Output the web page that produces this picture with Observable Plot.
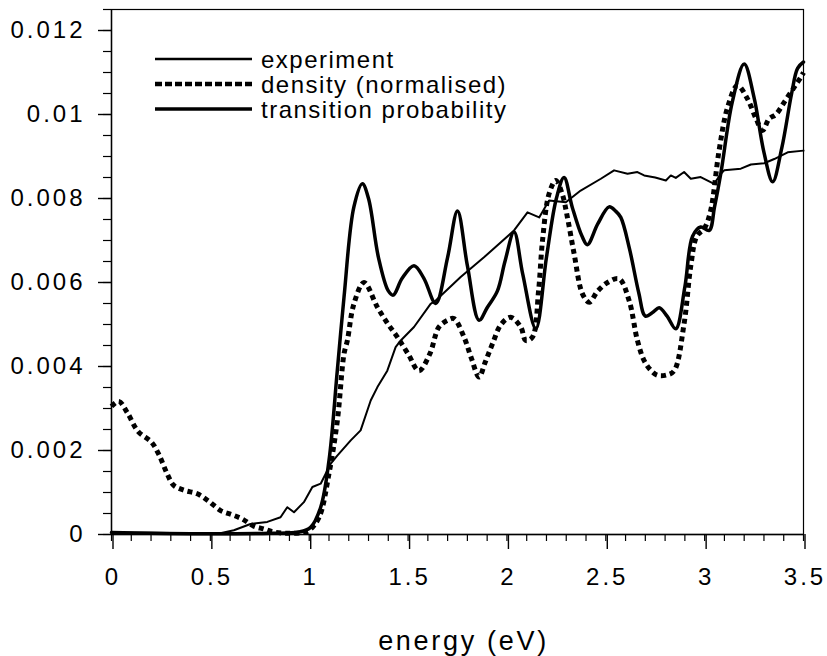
<!DOCTYPE html>
<html>
<head>
<meta charset="utf-8">
<script src="https://cdn.jsdelivr.net/npm/d3@7"></script>
<script src="https://cdn.jsdelivr.net/npm/@observablehq/plot@0.6"></script>
<style>
  html, body { margin: 0; padding: 0; background: #fff; }
  #wrap { position: relative; width: 827px; height: 656px; font-family: "Liberation Sans", Arial, sans-serif; }
  #wrap svg g[aria-label="x-axis tick label"] text,
  #wrap svg g[aria-label="y-axis tick label"] text { letter-spacing: 3px; }
  #wrap svg g[aria-label="text"] text { letter-spacing: 2.7px; }
  #legend { position: absolute; left: 155px; top: 46px; font-size: 24px; letter-spacing: 1.5px; color: #000; }
  #legend .row { display: flex; align-items: center; height: 25px; white-space: nowrap; }
  #legend .row span { line-height: 1; display: inline-block; height: 22px; }
  #legend svg { margin-right: 9px; }
</style>
</head>
<body>
<div id="wrap"></div>
<script>
// ---- data ----
const experimentX = [0, 0.2, 0.4, 0.55, 0.619, 0.703, 0.788, 0.855, 0.889, 0.923, 0.973, 1.016, 1.058, 1.108, 1.142, 1.21, 1.26, 1.311, 1.345, 1.395, 1.437, 1.463, 1.53, 1.614, 1.64, 1.766, 1.884, 2.036, 2.104, 2.163, 2.213, 2.298, 2.373, 2.475, 2.542, 2.61, 2.66, 2.694, 2.75, 2.804, 2.829, 2.854, 2.896, 2.93, 2.98, 3.048, 3.082, 3.099, 3.183, 3.234, 3.301, 3.352, 3.42, 3.5];
const experimentY = [0.00005, 0.00004, 0.00003, 0.00003, 0.0001, 0.00025, 0.0003, 0.00041, 0.00065, 0.00053, 0.00077, 0.00113, 0.00121, 0.00168, 0.00188, 0.00224, 0.00248, 0.00319, 0.00351, 0.0039, 0.00446, 0.00462, 0.00494, 0.00549, 0.00557, 0.00613, 0.0066, 0.00724, 0.00767, 0.00755, 0.00795, 0.00791, 0.00819, 0.00847, 0.00867, 0.00859, 0.00863, 0.00855, 0.0085, 0.00843, 0.00855, 0.00849, 0.00863, 0.00847, 0.00851, 0.00835, 0.00859, 0.00867, 0.00871, 0.00881, 0.00884, 0.00894, 0.0091, 0.00914];

const densityX = [0, 0.037, 0.08, 0.135, 0.202, 0.24, 0.282, 0.315, 0.37, 0.434, 0.49, 0.552, 0.61, 0.661, 0.72, 0.771, 0.82, 0.9, 0.97, 1.0, 1.05, 1.1, 1.142, 1.176, 1.193, 1.226, 1.277, 1.345, 1.4, 1.446, 1.5, 1.555, 1.61, 1.656, 1.7, 1.732, 1.783, 1.82, 1.859, 1.89, 1.927, 1.97, 2.019, 2.07, 2.095, 2.129, 2.16, 2.18, 2.213, 2.247, 2.28, 2.306, 2.34, 2.382, 2.416, 2.46, 2.509, 2.567, 2.618, 2.66, 2.694, 2.73, 2.762, 2.81, 2.846, 2.896, 2.93, 2.96, 3.0, 3.03, 3.073, 3.116, 3.166, 3.217, 3.26, 3.293, 3.326, 3.36, 3.402, 3.453, 3.487, 3.5];
const densityY = [0.00305, 0.00317, 0.0029, 0.00245, 0.0022, 0.0019, 0.00144, 0.00117, 0.00105, 0.00097, 0.0008, 0.00057, 0.00047, 0.00037, 0.0002, 0.00013, 0.00006, 0.00003, 0.00005, 0.0001, 0.00041, 0.00145, 0.0027, 0.0043, 0.00462, 0.00549, 0.006, 0.00541, 0.005, 0.0047, 0.0043, 0.0039, 0.0043, 0.00494, 0.0051, 0.00514, 0.0047, 0.0042, 0.00375, 0.0041, 0.00454, 0.005, 0.00517, 0.00494, 0.00462, 0.0047, 0.0058, 0.007, 0.00811, 0.00843, 0.0081, 0.00755, 0.00668, 0.00573, 0.00553, 0.0058, 0.006, 0.00609, 0.00557, 0.00462, 0.00414, 0.0039, 0.00379, 0.0038, 0.0039, 0.00502, 0.0064, 0.0071, 0.0073, 0.0077, 0.00914, 0.01017, 0.01069, 0.01037, 0.0099, 0.00962, 0.0099, 0.01, 0.01029, 0.01065, 0.01089, 0.011];

const transitionX = [0, 0.2, 0.4, 0.6, 0.8, 0.95, 1.007, 1.058, 1.1, 1.142, 1.176, 1.226, 1.269, 1.3, 1.35, 1.4, 1.425, 1.47, 1.53, 1.58, 1.64, 1.7, 1.75, 1.8, 1.859, 1.9, 1.952, 1.99, 2.036, 2.08, 2.146, 2.2, 2.25, 2.289, 2.33, 2.38, 2.407, 2.46, 2.517, 2.55, 2.576, 2.62, 2.667, 2.7, 2.74, 2.77, 2.81, 2.854, 2.9, 2.939, 2.98, 3.023, 3.05, 3.082, 3.14, 3.2, 3.25, 3.3, 3.344, 3.39, 3.44, 3.47, 3.5];
const transitionY = [0.00005, 0.00003, 0.00002, 0.00002, 0.00003, 0.00006, 0.00017, 0.00065, 0.00176, 0.0039, 0.00565, 0.0078, 0.00835, 0.008, 0.0066, 0.0058, 0.0057, 0.0061, 0.0064, 0.0061, 0.0055, 0.0066, 0.0077, 0.0064, 0.0051, 0.0054, 0.0058, 0.0065, 0.0072, 0.0062, 0.0049, 0.0066, 0.008, 0.0085, 0.0078, 0.0071, 0.0069, 0.0074, 0.0078, 0.0077, 0.00755, 0.0068, 0.00575, 0.0052, 0.0053, 0.0054, 0.0052, 0.0049, 0.0059, 0.0071, 0.00732, 0.00724, 0.0078, 0.0086, 0.0103, 0.0112, 0.0104, 0.0091, 0.0084, 0.0092, 0.0105, 0.0111, 0.01125];

const seriesNames = ["experiment", "density (normalised)", "transition probability"];
const xMajorTicks = [0, 0.5, 1, 1.5, 2, 2.5, 3, 3.5];
const xMinorTicks = d3.range(0, 36).map(i => i / 10);
const yMajorTicks = [0, 0.002, 0.004, 0.006, 0.008, 0.01, 0.012];
const yMinorTicks = d3.range(0, 26).map(i => i * 0.0005);
const xLabel = "energy (eV)";

const toRows = (xs, ys) => xs.map((x, i) => ({x, y: ys[i]}));
const experiment = toRows(experimentX, experimentY);
const density = toRows(densityX, densityY);
const transition = toRows(transitionX, transitionY);

const fmt = d3.format("~g");

const chart = Plot.plot({
  width: 827,
  height: 656,
  marginLeft: 111,
  marginRight: 24,
  marginTop: 9,
  marginBottom: 122,
  style: {fontFamily: "Liberation Sans, Arial, sans-serif", background: "#fff", color: "#000"},
  x: {domain: [0, 3.5]},
  y: {domain: [0, 0.0125]},
  marks: [
    Plot.frame({stroke: "#000", strokeWidth: 1.2}),
    Plot.axisX({ticks: xMinorTicks, tickSize: 7, text: null, label: null, strokeWidth: 1.2}),
    Plot.axisX({ticks: xMajorTicks, tickSize: 15, tickPadding: 18, tickFormat: fmt, fontSize: 24, dx: 1.5,
      label: null, strokeWidth: 1.4}),
    Plot.axisY({ticks: yMinorTicks, tickSize: 8, text: null, label: null, strokeWidth: 1.2}),
    Plot.axisY({ticks: yMajorTicks, tickSize: 13, tickPadding: 13, tickFormat: fmt, fontSize: 24,
      label: null, strokeWidth: 1.4}),
    Plot.ruleY([0], {stroke: "#000", strokeWidth: 1.4}),
    Plot.ruleX([0], {stroke: "#000", strokeWidth: 1.4}),
    Plot.text([xLabel], {frameAnchor: "bottom", lineAnchor: "middle", dy: 107, dx: 6, fontSize: 27, fill: "#000"}),
    Plot.line(experiment, {x: "x", y: "y", stroke: "#000", strokeWidth: 2, curve: "linear"}),
    Plot.line(density, {x: "x", y: "y", stroke: "#000", strokeWidth: 5, strokeDasharray: "5,4", strokeLinecap: "butt", curve: "catmull-rom"}),
    Plot.line(transition, {x: "x", y: "y", stroke: "#000", strokeWidth: 3.5, curve: "catmull-rom"})
  ]
});

const wrap = document.getElementById("wrap");
wrap.appendChild(chart);

// legend
const legendStyles = [
  {w: 2.5, dash: null},
  {w: 4.5, dash: "7,3"},
  {w: 3.5, dash: null}
];
const legend = document.createElement("div");
legend.id = "legend";
seriesNames.forEach((name, i) => {
  const row = document.createElement("div");
  row.className = "row";
  const s = legendStyles[i];
  row.innerHTML = `<svg width="97" height="8"><line x1="0" x2="97" y1="4" y2="4" stroke="#000" stroke-width="${s.w}" ${s.dash ? `stroke-dasharray="${s.dash}"` : ""}/></svg><span>${name}</span>`;
  legend.appendChild(row);
});
wrap.appendChild(legend);
</script>
</body>
</html>
